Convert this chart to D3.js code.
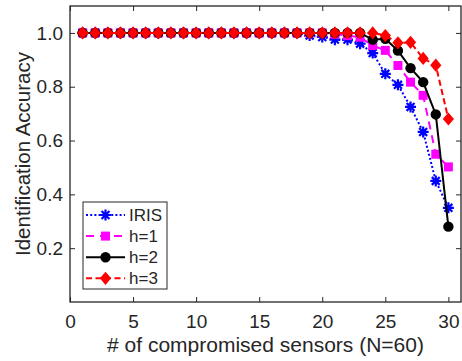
<!DOCTYPE html>
<html><head><meta charset="utf-8">
<script src="https://cdn.jsdelivr.net/npm/d3@7"></script>
<style>body{margin:0;background:#fff}svg{display:block}text{font-family:"Liberation Sans",Arial,sans-serif;fill:#262626}</style>
</head><body><svg id="c" width="462" height="361"></svg>
<script>
const xs = d3.range(1, 31);
const iris = [1,1,1,1,1,1,1,1,1,1,1,1,1,1,1,1,1,1,0.99,0.985,0.975,0.975,0.96,0.925,0.848,0.807,0.725,0.632,0.45,0.35];
const h1 = [1,1,1,1,1,1,1,1,1,1,1,1,1,1,1,1,1,1,1,1,0.995,0.99,0.984,0.953,0.935,0.879,0.817,0.768,0.549,0.502];
const h2 = [1,1,1,1,1,1,1,1,1,1,1,1,1,1,1,1,1,1,1,1,1,1,1,0.975,0.978,0.934,0.869,0.817,0.697,0.28];
const h3 = [1,1,1,1,1,1,1,1,1,1,1,1,1,1,1,1,1,1,1,1,1,1,1,1,0.99,0.963,0.965,0.905,0.88,0.68];
const xTicks = [0,5,10,15,20,25,30];
const yTicks = [0.2,0.4,0.6,0.8,1.0];
const seriesNames = ["IRIS","h=1","h=2","h=3"];

const series = [
  {name:seriesNames[0], vals:iris, color:"#0000ff", dash:"2,2.2", marker:"star"},
  {name:seriesNames[1], vals:h1, color:"#ff00ff", dash:"8,6", marker:"square"},
  {name:seriesNames[2], vals:h2, color:"#000000", dash:null, marker:"circle"},
  {name:seriesNames[3], vals:h3, color:"#ff0000", dash:"6,3.5", marker:"diamond"}
];

const L=70, R=461, T=6, B=302;
const svg = d3.select("#c");
const x = d3.scaleLinear().domain([0,31]).range([L,R]);
const y = d3.scaleLinear().domain([0,1.1]).range([B,T]);

// axes
const ax = "#262626";
const gx = svg.append("g").attr("transform",`translate(0,${B})`)
  .call(d3.axisBottom(x).tickValues(xTicks).tickFormat(d3.format("d")).tickSizeInner(-5).tickSizeOuter(0).tickPadding(13));
const gxt = svg.append("g").attr("transform",`translate(0,${T})`)
  .call(d3.axisTop(x).tickValues(xTicks).tickFormat("").tickSizeInner(-5).tickSizeOuter(0));
const gy = svg.append("g").attr("transform",`translate(${L},0)`)
  .call(d3.axisLeft(y).tickValues(yTicks).tickFormat(d3.format(".1f")).tickSizeInner(-5).tickSizeOuter(0).tickPadding(7));
const gyr = svg.append("g").attr("transform",`translate(${R},0)`)
  .call(d3.axisRight(y).tickValues(yTicks).tickFormat("").tickSizeInner(-5).tickSizeOuter(0));
[gx,gxt,gy,gyr].forEach(g=>{
  g.select(".domain").remove();
  g.selectAll("line").attr("stroke",ax).attr("stroke-width",1);
  g.selectAll("text").attr("font-size",19).attr("fill","#262626").style("font-family",'"Liberation Sans",Arial,sans-serif');
});
svg.append("rect").attr("x",L).attr("y",T).attr("width",R-L).attr("height",B-T)
  .attr("fill","none").attr("stroke",ax).attr("stroke-width",1.3);

// labels
svg.append("text").attr("x",(L+R)/2).attr("y",351.5).attr("text-anchor","middle").attr("font-size",21)
  .text("# of compromised sensors (N=60)");
svg.append("text").attr("transform",`translate(30,${(T+B)/2}) rotate(-90)`).attr("text-anchor","middle").attr("font-size",20.5)
  .text("Identification Accuracy");

function drawMarker(g, type, cx, cy, color){
  if(type==="star"){
    const r=5.5, d=r*0.72;
    g.append("path").attr("d",`M${cx-r},${cy}L${cx+r},${cy}M${cx},${cy-r}L${cx},${cy+r}M${cx-d},${cy-d}L${cx+d},${cy+d}M${cx-d},${cy+d}L${cx+d},${cy-d}`)
      .attr("stroke",color).attr("stroke-width",2.2).attr("fill","none");
  } else if(type==="square"){
    g.append("rect").attr("x",cx-4.5).attr("y",cy-4.5).attr("width",9).attr("height",9).attr("fill",color);
  } else if(type==="circle"){
    g.append("circle").attr("cx",cx).attr("cy",cy).attr("r",5.2).attr("fill",color);
  } else {
    g.append("path").attr("d",`M${cx},${cy-6.6}L${cx+5.6},${cy}L${cx},${cy+6.6}L${cx-5.6},${cy}Z`).attr("fill",color);
  }
}

const line = d3.line().x((d,i)=>x(xs[i])).y(d=>y(d));
series.forEach(s=>{
  const g = svg.append("g");
  g.append("path").attr("d",line(s.vals)).attr("fill","none").attr("stroke",s.color)
    .attr("stroke-width",2).attr("stroke-dasharray",s.dash);
  s.vals.forEach((v,i)=>drawMarker(g,s.marker,x(xs[i]),y(v),s.color));
});

// legend
const lg = svg.append("g");
lg.append("rect").attr("x",83).attr("y",202).attr("width",84).attr("height",87)
  .attr("fill","#fff").attr("stroke",ax).attr("stroke-width",1);
series.forEach((s,i)=>{
  const yy = 215 + i*21.1;
  lg.append("line").attr("x1",86).attr("x2",125).attr("y1",yy).attr("y2",yy)
    .attr("stroke",s.color).attr("stroke-width",2).attr("stroke-dasharray",s.dash);
  drawMarker(lg,s.marker,105.5,yy,s.color);
  lg.append("text").attr("x",129).attr("y",yy+6).attr("font-size",17).text(s.name);
});
</script></body></html>
